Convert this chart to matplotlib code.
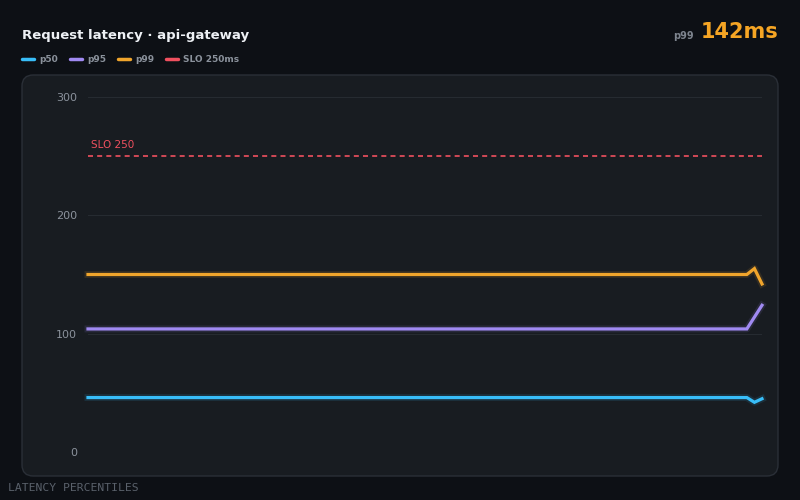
import matplotlib
matplotlib.use("Agg")
import matplotlib.pyplot as plt
from matplotlib.patches import FancyBboxPatch
from matplotlib.lines import Line2D

# latency samples (ms)
p50 = [46, 46, 46, 46, 46, 46, 46, 46, 46, 46, 46, 46, 46, 46, 46,
       46, 46, 46, 46, 46, 46, 46, 46, 46, 46, 46, 46, 46, 46, 46,
       46, 46, 46, 46, 46, 46, 46, 46, 46, 46, 46, 46, 46, 46, 46,
       46, 46, 46, 46, 46, 46, 46, 46, 46, 46, 46, 46, 46, 46, 46,
       46, 46, 46, 46, 46, 46, 46, 46, 46, 46, 46, 46, 46, 46, 46,
       46, 46, 46, 46, 46, 46, 46, 46, 46, 46, 46, 46, 46, 42, 45]
p95 = [104, 104, 104, 104, 104, 104, 104, 104, 104, 104, 104, 104, 104, 104, 104,
       104, 104, 104, 104, 104, 104, 104, 104, 104, 104, 104, 104, 104, 104, 104,
       104, 104, 104, 104, 104, 104, 104, 104, 104, 104, 104, 104, 104, 104, 104,
       104, 104, 104, 104, 104, 104, 104, 104, 104, 104, 104, 104, 104, 104, 104,
       104, 104, 104, 104, 104, 104, 104, 104, 104, 104, 104, 104, 104, 104, 104,
       104, 104, 104, 104, 104, 104, 104, 104, 104, 104, 104, 104, 104, 114, 124]
p99 = [150, 150, 150, 150, 150, 150, 150, 150, 150, 150, 150, 150, 150, 150, 150,
       150, 150, 150, 150, 150, 150, 150, 150, 150, 150, 150, 150, 150, 150, 150,
       150, 150, 150, 150, 150, 150, 150, 150, 150, 150, 150, 150, 150, 150, 150,
       150, 150, 150, 150, 150, 150, 150, 150, 150, 150, 150, 150, 150, 150, 150,
       150, 150, 150, 150, 150, 150, 150, 150, 150, 150, 150, 150, 150, 150, 150,
       150, 150, 150, 150, 150, 150, 150, 150, 150, 150, 150, 150, 150, 155, 142]
slo = 250
y_ticks = [0, 100, 200, 300]

series = [("p50", p50, "#38bdf8"), ("p95", p95, "#a08af2"), ("p99", p99, "#f0a52c")]
slo_color = "#f0505f"

BG = "#0d1015"
PANEL = "#181c21"
W, H = 800, 500

fig = plt.figure(figsize=(8, 5), dpi=100, facecolor=BG)

def fx(px):
    return px / W

def fy(py):
    return 1 - py / H

# panel behind the plot
panel = FancyBboxPatch((fx(22), fy(476)), fx(778) - fx(22), fy(75) - fy(476),
                       boxstyle="round,pad=0,rounding_size=0.014",
                       transform=fig.transFigure, facecolor=PANEL,
                       edgecolor="#2a2f37", linewidth=1, zorder=-5,
                       mutation_aspect=1.6)
fig.patches.append(panel)

ax = fig.add_axes([fx(88), fy(452), fx(762) - fx(88), fy(97) - fy(452)])
ax.set_zorder(2)
ax.set_facecolor("none")
x = list(range(len(p50)))
ax.set_xlim(0, len(x) - 1)
ax.set_ylim(0, 300)

for name, vals, col in series:
    # faint glow underneath
    ax.plot(x, vals, color=col, lw=5, alpha=0.12, clip_on=False, zorder=3)
    ax.plot(x, vals, color=col, lw=2.3, solid_joinstyle="miter", clip_on=False, zorder=4)

ax.axhline(slo, color=slo_color, lw=1.2, ls=(0, (3, 2.5)), zorder=2)
ax.annotate("SLO 250", (0, slo), xytext=(2, 4.5), textcoords="offset points",
            color=slo_color, fontsize=7.5, ha="left", va="bottom")

ax.set_yticks(y_ticks)
ax.set_xticks([])
ax.grid(axis="y", color="#262b31", lw=0.8)
ax.tick_params(axis="y", length=0, pad=8, labelcolor="#8b929c", labelsize=8)
for s in ax.spines.values():
    s.set_visible(False)

# header
fig.text(fx(22), fy(35), "Request latency · api-gateway", color="#eef1f5",
         fontsize=9.5, fontweight="bold", va="center", ha="left")

legend_items = [("p50", "#38bdf8", 22), ("p95", "#a08af2", 70),
                ("p99", "#f0a52c", 118), ("SLO 250ms", slo_color, 166)]
for label, col, px in legend_items:
    fig.add_artist(Line2D([fx(px), fx(px + 12)], [fy(59), fy(59)], color=col,
                          lw=2.5, solid_capstyle="round", transform=fig.transFigure))
    fig.text(fx(px + 17), fy(59), label, color="#8b929c", fontsize=6.5,
             fontweight="bold", va="center", ha="left")

fig.text(fx(778), fy(32), "142ms", color="#f5a524", fontsize=15,
         fontweight="bold", ha="right", va="center")
fig.text(fx(694), fy(36), "p99", color="#7d848e", fontsize=7,
         fontweight="bold", ha="right", va="center")

fig.text(fx(8), fy(488), "LATENCY PERCENTILES", color="#5a616b", fontsize=8.2,
         family="DejaVu Sans Mono", ha="left", va="center")

fig.savefig("out.png", dpi=100, facecolor=BG)
